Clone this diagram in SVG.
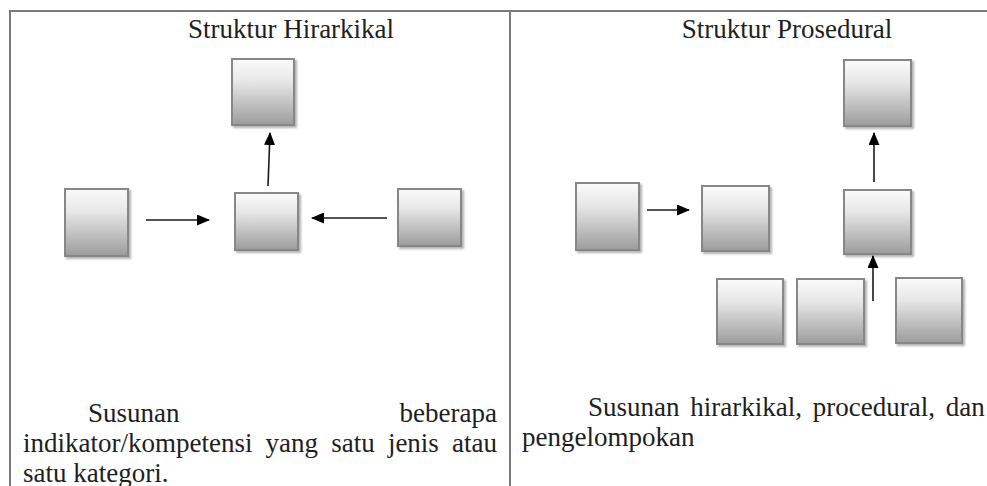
<svg xmlns="http://www.w3.org/2000/svg" width="987" height="486" viewBox="0 0 987 486">
<style>
.frame{stroke:#7a7a7a;stroke-width:2;fill:none}
.box{fill:url(#g);stroke:#878787;stroke-width:2;filter:url(#sh)}
.conn{stroke:#1a1a1a;stroke-width:1.6;fill:none;marker-end:url(#ah)}
.t{font-family:'Liberation Serif','Tinos','Times New Roman','DejaVu Serif',serif;font-size:27px;fill:#1e1e1e}
</style>
<defs>
<linearGradient id="g" x1="0" y1="0" x2="0" y2="1">
<stop offset="0" stop-color="#fbfbfb"/>
<stop offset="0.35" stop-color="#e6e6e6"/>
<stop offset="1" stop-color="#9c9c9c"/>
</linearGradient>
<filter id="sh" x="-20%" y="-20%" width="140%" height="140%">
<feDropShadow dx="2" dy="2" stdDeviation="1.2" flood-color="#000" flood-opacity="0.3"/>
</filter>
<marker id="ah" markerWidth="13" markerHeight="11" refX="12" refY="5.5" orient="auto" markerUnits="userSpaceOnUse">
<path d="M0,0 L13,5.5 L0,11 Z" fill="#000"/>
</marker>
</defs>
<rect width="987" height="486" fill="#fff"/>
<g id="frame">
<path class="frame" d="M10,487 V11 H988 M510,11 V487"/>
</g>
<text class="t" x="291" y="38" text-anchor="middle" font-family="Liberation Serif, serif">Struktur Hirarkikal</text>
<text class="t" x="787" y="38" text-anchor="middle" font-family="Liberation Serif, serif">Struktur Prosedural</text>
<g id="h-top"><rect class="box" x="232" y="59" width="62" height="66"/></g>
<g id="h-left"><rect class="box" x="65" y="189" width="63" height="67"/></g>
<g id="h-center"><rect class="box" x="235" y="193" width="63" height="57"/></g>
<g id="h-right"><rect class="box" x="398" y="189" width="63" height="57"/></g>
<g id="p-a"><rect class="box" x="576" y="183" width="63" height="67"/></g>
<g id="p-b"><rect class="box" x="702" y="186" width="67" height="65"/></g>
<g id="p-top"><rect class="box" x="844" y="60" width="67" height="66"/></g>
<g id="p-mid"><rect class="box" x="844" y="190" width="67" height="64"/></g>
<g id="p-b1"><rect class="box" x="717" y="279" width="66" height="65"/></g>
<g id="p-b2"><rect class="box" x="797" y="279" width="67" height="65"/></g>
<g id="p-b3"><rect class="box" x="896" y="278" width="66" height="65"/></g>
<g id="connectors">
<line class="conn" x1="146" y1="220" x2="209" y2="220"/>
<line class="conn" x1="387" y1="218" x2="312" y2="218"/>
<line class="conn" x1="268" y1="186" x2="270" y2="133"/>
<line class="conn" x1="647" y1="210" x2="689" y2="210"/>
<line class="conn" x1="874" y1="182" x2="874" y2="133"/>
<line class="conn" x1="873" y1="301" x2="873" y2="256"/>
</g>
<text class="t" x="88" y="422">Susunan</text>
<text class="t" x="497" y="422" text-anchor="end">beberapa</text>
<text class="t" x="23" y="452" word-spacing="6.4">indikator/kompetensi yang satu jenis atau</text>
<text class="t" x="23" y="482">satu kategori.</text>
<text class="t" x="588" y="416" word-spacing="4">Susunan hirarkikal, procedural, dan</text>
<text class="t" x="522" y="446">pengelompokan</text>
</svg>
